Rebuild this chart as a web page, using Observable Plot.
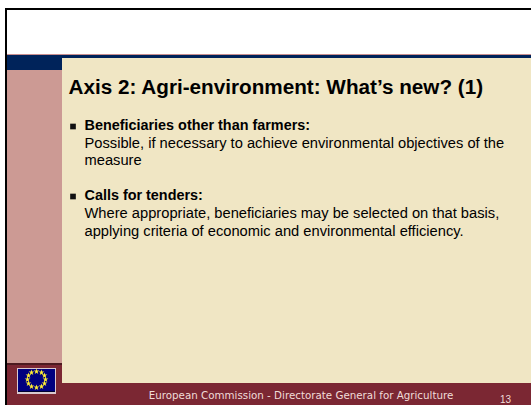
<!DOCTYPE html>
<html><head><meta charset="utf-8">
<script src="https://cdn.jsdelivr.net/npm/d3@7"></script>
<script src="https://cdn.jsdelivr.net/npm/@observablehq/plot@0.6"></script>
<style>html,body{margin:0;padding:0;background:#fff;overflow:hidden}svg{display:block}</style>
</head><body>
<script>
const W = 531, H = 405;
const bands = [
  {x1:5,x2:531,y1:8,y2:405,fill:"#000000"},
  {x1:7,x2:531,y1:10,y2:405,fill:"#ffffff"},
  {x1:7,x2:531,y1:54,y2:55,fill:"#c98f8f"},
  {x1:7,x2:531,y1:55,y2:70,fill:"#00235a"},
  {x1:7,x2:531,y1:70,y2:363,fill:"#cc9a94"},
  {x1:7,x2:531,y1:363,y2:365,fill:"#4d1a20"},
  {x1:7,x2:531,y1:365,y2:405,fill:"#7b2733"},
  {x1:62,x2:531,y1:58,y2:383,fill:"#f0e6c4"},
  {x1:17,x2:56,y1:368,y2:394,fill:"#d8c8d0"},
  {x1:18,x2:55,y1:369,y2:392,fill:"#00007e"},
  {x1:18,x2:55,y1:391,y2:392,fill:"#000030"}
];
const titleText = ["Axis 2: Agri-environment: What’s new? (1)"];
const boldLines = [
  {t:"Beneficiaries other than farmers:",x:84,y:125},
  {t:"Calls for tenders:",x:84,y:195}
];
const plainLines = [
  {t:"Possible, if necessary to achieve environmental objectives of the",x:84,y:143},
  {t:"measure",x:84,y:160},
  {t:"Where appropriate, beneficiaries may be selected on that basis,",x:84,y:213},
  {t:"applying criteria of economic and environmental efficiency.",x:84,y:231}
];
const bullets = [{x:72.5,y:126},{x:72.5,y:196}];
const stars = [[36,371],[41,372],[44,375],[45,379],[44,383],[41,386],[36,387],[31,386],[28,383],[27,379],[28,375],[31,372]];
const footer = ["European Commission - Directorate General for Agriculture"];
const pageNo = ["13"];
const sans = "'Liberation Sans',Arial,sans-serif";
const chart = Plot.plot({
  width:W,height:H,margin:0,
  x:{domain:[0,W],range:[0,W],axis:null},
  y:{domain:[0,H],range:[0,H],axis:null},
  style:{background:"#fff"},
  marks:[
    Plot.rect(bands,{x1:"x1",x2:"x2",y1:"y1",y2:"y2",fill:d=>d.fill}),
    Plot.dot(stars,{x:d=>d[0],y:d=>d[1],r:1.8,fill:"#ffee33",symbol:"star"}),
    Plot.dot(bullets,{x:"x",y:"y",symbol:"square",r:3.2,fill:"#111"}),
    Plot.text(titleText,{x:()=>68,y:()=>87,text:d=>d,textAnchor:"start",fontFamily:sans,fontWeight:"bold",fontSize:20.7,fill:"#000"}),
    Plot.text(boldLines,{x:"x",y:"y",text:"t",textAnchor:"start",fontFamily:sans,fontWeight:"bold",fontSize:14.4,fill:"#000"}),
    Plot.text(plainLines,{x:"x",y:"y",text:"t",textAnchor:"start",fontFamily:sans,fontSize:14.7,fill:"#000"}),
    Plot.text(footer,{x:()=>300.5,y:()=>395,text:d=>d,textAnchor:"middle",fontFamily:"'DejaVu Sans',Verdana,sans-serif",fontSize:10.3,fill:"#f0dcd8"}),
    Plot.text(pageNo,{x:()=>505,y:()=>399.5,text:d=>d,textAnchor:"middle",fontFamily:sans,fontSize:10,fill:"#f0dcd8"})
  ]
});
document.body.appendChild(chart);
</script>
</body></html>
